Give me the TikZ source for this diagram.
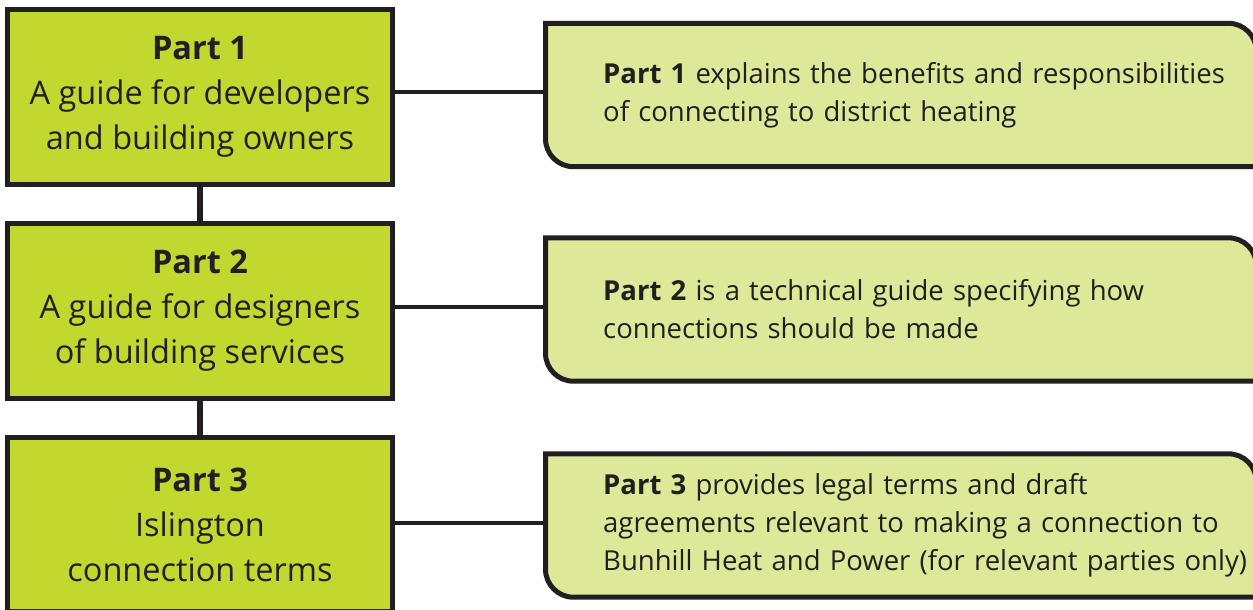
\documentclass[tikz,border=0pt]{standalone}
\usepackage{fontspec}
\setmainfont{Open Sans}
\usetikzlibrary{backgrounds}
\definecolor{partgreen}{HTML}{C2D82E}
\definecolor{notegreen}{HTML}{DEE899}
\definecolor{ink}{HTML}{231F20}
\tikzset{
  partbox/.style={draw=ink, line width=5pt, fill=partgreen, text=ink,
    minimum width=385.5pt, minimum height=174.5pt, align=center,
    font=\fontsize{32.5}{45}\selectfont},
  notetext/.style={anchor=west, text=ink, text width=653pt, inner xsep=0pt,
    minimum height=143pt, align=left, font=\fontsize{27.5}{38}\selectfont},
  noteframe/.style={draw=ink, line width=5pt, fill=notegreen},
  link/.style={draw=ink, line width=4pt},
  spine/.style={draw=ink, line width=6pt}
}
\begin{document}
\begin{tikzpicture}[x=1pt,y=-1pt]
    \useasboundingbox (0,0) rectangle (1253,610);
    \clip (0,0) rectangle (1253,610);
    % left column
    \node[partbox] (p1) at (200,97) {\textbf{Part 1}\\A guide for developers\\and building owners};
    \node[partbox] (p2) at (200,311) {\textbf{Part 2}\\A guide for designers\\of building services};
    \node[partbox] (p3) at (200,524.5) {\textbf{Part 3}\\Islington\\connection terms};
    \foreach \a/\b in {p1/p2,p2/p3}
        \draw[spine] (\a.south) -- (\b.north);
    % right column
    \node[notetext] (d1) at (603,95) {\textbf{Part 1} explains the benefits and responsibilities\\of connecting to district heating};
    \node[notetext] (d2) at (603,309.5) {\textbf{Part 2} is a technical guide specifying how\\connections should be made};
    \node[notetext] (d3) at (603,525.5) {\textbf{Part 3} provides legal terms and draft\\agreements relevant to making a connection to\\Bunhill Heat and Power (for relevant parties only)};
    \begin{scope}[on background layer]
        \foreach \i in {1,2,3}
            \draw[noteframe] ([xshift=-57.5pt]d\i.north west) [rounded corners=28pt] -- (d\i.north east)
                [sharp corners] -- (d\i.south east) [rounded corners=28pt] -- ([xshift=-57.5pt]d\i.south west)
                [sharp corners] -- cycle;
    \end{scope}
    \foreach \i in {1,2,3}
        \draw[link] ([yshift=3pt]p\i.east |- d\i.west) -- ([xshift=-57.5pt,yshift=3pt]d\i.west);
\end{tikzpicture}
\end{document}
